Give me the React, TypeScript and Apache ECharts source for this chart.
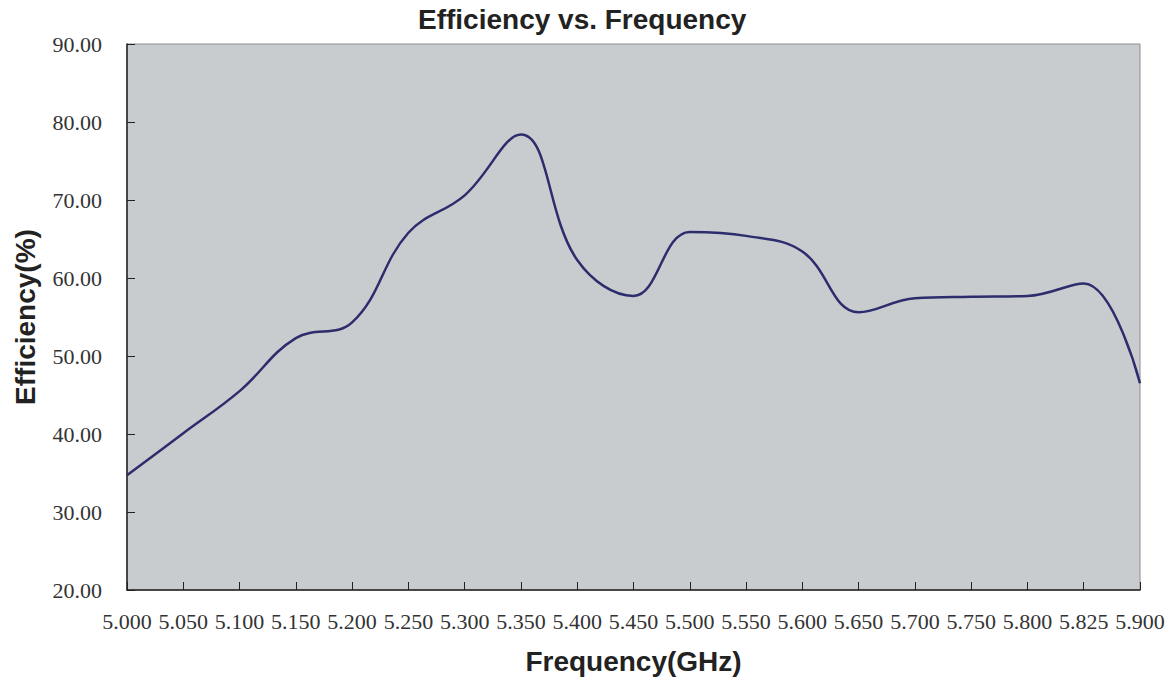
import React, { useEffect, useRef } from "react";
import * as echarts from "echarts";

const frequencies = [
  "5.000", "5.050", "5.100", "5.150", "5.200", "5.250", "5.300", "5.350", "5.400", "5.450",
  "5.500", "5.550", "5.600", "5.650", "5.700", "5.750", "5.800", "5.825", "5.900",
];
const efficiency = [
  34.7, 40.1, 45.5, 52.3, 54.3, 65.8, 70.6, 78.4, 62.3, 57.7,
  65.9, 65.4, 63.4, 55.6, 57.4, 57.6, 57.7, 59.3, 46.5,
];
const titleText = "Efficiency vs. Frequency";
const xName = "Frequency(GHz)";
const yName = "Efficiency(%)";

export default function App() {
  const ref = useRef<HTMLDivElement>(null);
  useEffect(() => {
    if (!ref.current) return;
    const chart = echarts.init(ref.current, null, { renderer: "svg" });
    chart.setOption({
      animation: false,
      backgroundColor: "#ffffff",
      title: {
        text: titleText,
        left: 413,
        top: 0,
        textStyle: {
          fontFamily: "Liberation Sans, Arial, sans-serif",
          fontWeight: "bold",
          fontSize: 28,
          color: "#222222",
        },
      },
      grid: {
        left: 127,
        right: 34,
        top: 44,
        bottom: 101,
        show: true,
        backgroundColor: "#c9ccce",
        borderColor: "#8c8c8c",
        borderWidth: 1,
      },
      xAxis: {
        type: "category",
        data: frequencies,
        boundaryGap: false,
        name: xName,
        nameLocation: "middle",
        nameGap: 57,
        nameTextStyle: {
          fontFamily: "Liberation Sans, Arial, sans-serif",
          fontWeight: "bold",
          fontSize: 28,
          color: "#222222",
        },
        axisLine: { show: true, lineStyle: { color: "#222222", width: 1.5 } },
        axisTick: { show: true, inside: true, length: 8, interval: 0, lineStyle: { color: "#222222" } },
        axisLabel: {
          interval: 0,
          margin: 20,
          fontFamily: "Liberation Serif, Times New Roman, serif",
          fontSize: 22,
          color: "#333333",
        },
        splitLine: { show: false },
      },
      yAxis: {
        type: "value",
        min: 20,
        max: 90,
        interval: 10,
        name: yName,
        nameLocation: "middle",
        nameGap: 88,
        nameTextStyle: {
          fontFamily: "Liberation Sans, Arial, sans-serif",
          fontWeight: "bold",
          fontSize: 28,
          color: "#222222",
        },
        axisLine: { show: true, lineStyle: { color: "#222222", width: 1.5 } },
        axisTick: { show: true, inside: true, length: 8, lineStyle: { color: "#222222" } },
        axisLabel: {
          margin: 25,
          formatter: (v: number) => v.toFixed(2),
          fontFamily: "Liberation Serif, Times New Roman, serif",
          fontSize: 22,
          color: "#333333",
        },
        splitLine: { show: false },
      },
      series: [
        {
          type: "line",
          data: efficiency,
          smooth: 0.4,
          showSymbol: false,
          symbol: "none",
          lineStyle: { color: "#2d2d6e", width: 2.5 },
        },
      ],
    });
    return () => chart.dispose();
  }, []);
  return (
    <div
      ref={ref}
      style={{ position: "fixed", left: 0, top: 0, width: 1174, height: 691 }}
    />
  );
}
